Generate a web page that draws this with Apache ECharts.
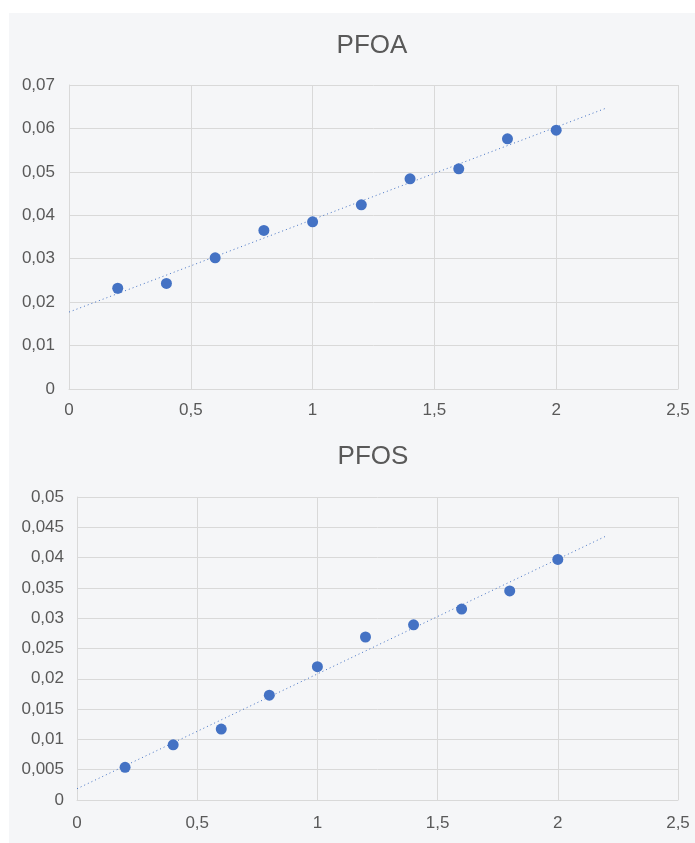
<!DOCTYPE html>
<html>
<head>
<meta charset="utf-8">
<script src="https://cdn.jsdelivr.net/npm/echarts@6/dist/echarts.min.js"></script>
<style>
html,body{margin:0;padding:0;background:#ffffff;}
#chart{position:absolute;left:9px;top:13px;width:686px;height:830px;}
</style>
</head>
<body>
<div id="chart"></div>
<script>
// Data
const titles = ['PFOA', 'PFOS'];
const xValues = [0.2, 0.4, 0.6, 0.8, 1.0, 1.2, 1.4, 1.6, 1.8, 2.0];
const pfoaValues = [0.0232, 0.0243, 0.0302, 0.0365, 0.0385, 0.0424, 0.0484, 0.0507, 0.0576, 0.0596];
const pfosValues = [0.0054, 0.0091, 0.0117, 0.0173, 0.0220, 0.0269, 0.0289, 0.0315, 0.0345, 0.0397];
const trendXRange = [0, 2.2]; // linear trendline span (Excel style, extended)
const pfoaYAxis = {min: 0, max: 0.07, interval: 0.01};
const pfosYAxis = {min: 0, max: 0.05, interval: 0.005};
const xAxisTicks = {min: 0, max: 2.5, interval: 0.5};

function linFit(xs, ys) {
  const n = xs.length;
  const mx = xs.reduce((a, b) => a + b, 0) / n;
  const my = ys.reduce((a, b) => a + b, 0) / n;
  let sxy = 0, sxx = 0;
  for (let i = 0; i < n; i++) { sxy += (xs[i] - mx) * (ys[i] - my); sxx += (xs[i] - mx) * (xs[i] - mx); }
  const m = sxy / sxx;
  return {m: m, b: my - m * mx};
}
function trendData(ys) {
  const f = linFit(xValues, ys);
  return trendXRange.map(x => [x, f.b + f.m * x]);
}
const fmt = v => String(+(+v).toFixed(4)).replace('.', ',');
const FONT = "'Liberation Sans', Arial, sans-serif";
const labelColor = '#595959';
const gridColor = '#d9d9d9';
const blue = '#4472C4';

function xAxis(gridIndex, margin) {
  return {
    type: 'value', gridIndex: gridIndex,
    min: xAxisTicks.min, max: xAxisTicks.max, interval: xAxisTicks.interval,
    axisLine: {show: true, lineStyle: {color: gridColor, width: 1}},
    axisTick: {show: false},
    splitLine: {show: true, lineStyle: {color: gridColor, width: 1}},
    axisLabel: {color: labelColor, fontSize: 17, fontFamily: FONT, margin: margin, formatter: fmt, showMaxLabel: true, showMinLabel: true}
  };
}
function yAxis(gridIndex, cfg, margin) {
  return {
    type: 'value', gridIndex: gridIndex,
    min: cfg.min, max: cfg.max, interval: cfg.interval,
    axisLine: {show: true, lineStyle: {color: gridColor, width: 1}},
    axisTick: {show: false},
    splitLine: {show: true, lineStyle: {color: gridColor, width: 1}},
    axisLabel: {color: labelColor, fontSize: 17, fontFamily: FONT, margin: margin, formatter: fmt, showMaxLabel: true, showMinLabel: true}
  };
}
function scatter(idx, ys) {
  return {
    type: 'scatter', xAxisIndex: idx, yAxisIndex: idx,
    data: xValues.map((x, i) => [x, ys[i]]),
    symbol: 'circle', symbolSize: 11,
    itemStyle: {color: blue, opacity: 1},
    z: 3
  };
}
function trend(idx, ys) {
  return {
    type: 'line', xAxisIndex: idx, yAxisIndex: idx,
    data: trendData(ys),
    showSymbol: false, symbol: 'none',
    lineStyle: {color: blue, width: 1, type: [1, 3]},
    z: 2, silent: true
  };
}

const chart = echarts.init(document.getElementById('chart'), null, {renderer: 'canvas'});
chart.setOption({
  backgroundColor: '#f5f6f8',
  animation: false,
  title: [
    {text: titles[0], left: 358, top: 15, textAlign: 'center', textStyle: {color: labelColor, fontSize: 26, fontWeight: 'normal', fontFamily: FONT}},
    {text: titles[1], left: 359, top: 426, textAlign: 'center', textStyle: {color: labelColor, fontSize: 26, fontWeight: 'normal', fontFamily: FONT}}
  ],
  grid: [
    {left: 60, top: 72, right: 17, bottom: 454},
    {left: 68, top: 484, right: 17, bottom: 43}
  ],
  xAxis: [xAxis(0, 13), xAxis(1, 15)],
  yAxis: [yAxis(0, pfoaYAxis, 14), yAxis(1, pfosYAxis, 13)],
  series: [
    trend(0, pfoaValues), scatter(0, pfoaValues),
    trend(1, pfosValues), scatter(1, pfosValues)
  ]
});
</script>
</body>
</html>
